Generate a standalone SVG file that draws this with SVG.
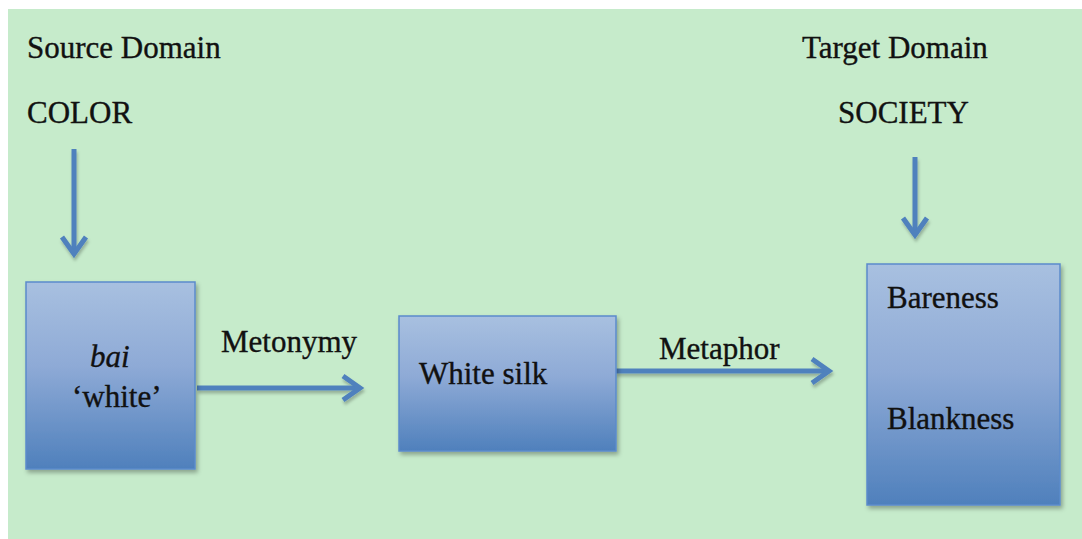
<svg xmlns="http://www.w3.org/2000/svg" width="1082" height="539" viewBox="0 0 1082 539" font-family="'Liberation Serif', 'Times New Roman', Times, serif">
  <defs>
    <linearGradient id="boxFill" x1="0" y1="0" x2="0" y2="1">
      <stop offset="0" stop-color="#A8C0E0"/>
      <stop offset="0.45" stop-color="#8EAAD6"/>
      <stop offset="1" stop-color="#4F80BC"/>
    </linearGradient>
    <filter id="shadow" x="-10%" y="-10%" width="125%" height="125%">
      <feDropShadow dx="2" dy="3" stdDeviation="2" flood-color="#000" flood-opacity="0.3"/>
    </filter>
    <filter id="lineShadow" filterUnits="userSpaceOnUse" x="0" y="0" width="1082" height="539">
      <feDropShadow dx="1" dy="3" stdDeviation="1.5" flood-color="#000" flood-opacity="0.25"/>
    </filter>
    <marker id="head" viewBox="0 0 30 30" refX="25" refY="15" markerWidth="30" markerHeight="30" markerUnits="userSpaceOnUse" orient="auto">
      <path d="M 8 3 L 25 15 L 8 27" fill="none" stroke="#4F81BD" stroke-width="5" stroke-linejoin="miter"/>
    </marker>
    <style>
      .lbl { font-family: 'Liberation Serif', 'Times New Roman', Times, serif; font-size: 31px; fill: #111; stroke: #111; stroke-width: 0.35; }
      .box { fill: url(#boxFill); stroke: #5B8BCB; stroke-width: 1.5; filter: url(#shadow); }
      .conn { stroke: #4F81BD; stroke-width: 5; fill: none; marker-end: url(#head); }
    </style>
  </defs>

  <!-- page background -->
  <rect x="0" y="0" width="1082" height="539" fill="#FFFFFF"/>
  <rect x="8" y="9" width="1074" height="530" fill="#C6EBCB"/>

  <!-- domain headings -->
  <g id="source-domain">
    <text class="lbl" x="27" y="58">Source Domain</text>
    <text class="lbl" x="27" y="123">COLOR</text>
  </g>
  <g id="target-domain">
    <text class="lbl" x="802" y="58">Target Domain</text>
    <text class="lbl" x="838" y="123">SOCIETY</text>
  </g>

  <!-- connectors -->
  <g id="connectors" filter="url(#lineShadow)">
    <line class="conn" x1="74" y1="149" x2="74" y2="254"/>
    <line class="conn" x1="915" y1="157" x2="915" y2="235"/>
    <line class="conn" x1="197" y1="388" x2="360" y2="388"/>
    <line class="conn" x1="616" y1="371" x2="829" y2="371"/>
  </g>
  <g id="connector-labels">
    <text class="lbl" x="221" y="352">Metonymy</text>
    <text class="lbl" x="659" y="359">Metaphor</text>
  </g>

  <g id="node-bai">
    <rect class="box" x="26" y="282" width="169" height="187"/>
    <text class="lbl" x="90" y="367" font-style="italic">bai</text>
    <text class="lbl" x="72" y="407">‘white’</text>
  </g>

  <g id="node-white-silk">
    <rect class="box" x="399" y="316" width="217" height="135"/>
    <text class="lbl" x="419" y="384">White silk</text>
  </g>

  <g id="node-society-values">
    <rect class="box" x="867" y="264" width="193" height="241"/>
    <text class="lbl" x="887" y="308">Bareness</text>
    <text class="lbl" x="887" y="429">Blankness</text>
  </g>
</svg>
